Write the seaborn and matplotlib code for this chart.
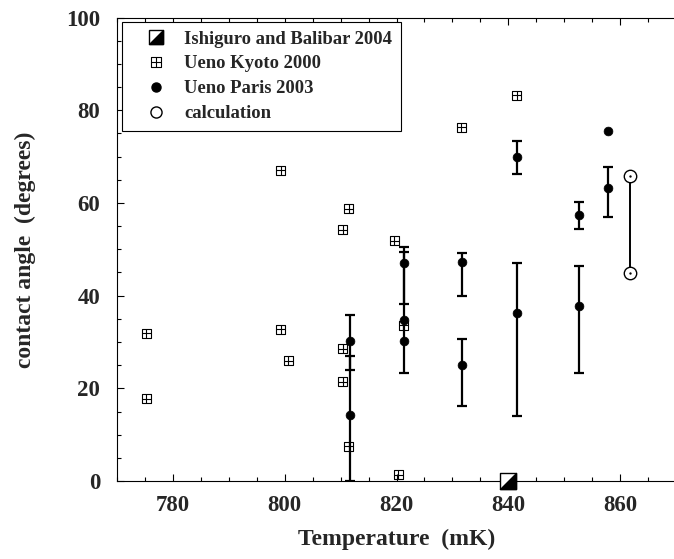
import matplotlib
matplotlib.use("Agg")
import matplotlib.pyplot as plt
import numpy as np
import seaborn as sns
from matplotlib.legend_handler import HandlerTuple
from matplotlib.lines import Line2D
from matplotlib.path import Path
from matplotlib.ticker import MultipleLocator

# Ueno Kyoto 2000
kyoto_T = [775.2, 775.2, 799.3, 799.3, 800.6, 811.5, 810.4, 810.4, 810.4, 811.5,
           819.6, 820.3, 821.2, 831.6, 841.5]
kyoto_angle = [31.9, 17.7, 67.1, 32.8, 25.9, 58.7, 54.2, 28.5, 21.4, 7.5,
               51.8, 1.4, 33.6, 76.3, 83.2]

# Ueno Paris 2003 (points, with lower / upper ends of the error bars)
paris_T = [811.6, 811.6, 821.3, 821.3, 821.3, 831.7, 831.7, 841.5, 841.5,
           852.6, 852.6, 857.9, 857.9]
paris_angle = [30.3, 14.2, 47.0, 34.7, 30.3, 47.3, 25.0, 70.0, 36.2,
               57.5, 37.8, 75.5, 63.3]
paris_lo = [24.0, 0.0, 38.3, 23.4, np.nan, 40.0, 16.2, 66.2, 14.1,
            54.3, 23.4, np.nan, 56.9]
paris_hi = [35.8, 27.0, 50.5, 49.5, np.nan, 49.3, 30.6, 73.4, 47.0,
            60.3, 46.4, np.nan, 67.7]

# calculation
calc_T = [861.7, 861.7]
calc_angle = [65.9, 44.8]

# Ishiguro and Balibar 2004
ishi_T = [840.0]
ishi_angle = [0.0]

sns.set_theme(style="ticks")
plt.rcParams["font.family"] = ["Liberation Serif", "DejaVu Serif"]
plt.rcParams["font.weight"] = "bold"
plt.rcParams["axes.labelweight"] = "bold"

box_plus = Path(
    [(-1, -1), (1, -1), (1, 1), (-1, 1), (-1, -1), (0, -1), (0, 1), (-1, 0), (1, 0)],
    [Path.MOVETO, Path.LINETO, Path.LINETO, Path.LINETO, Path.CLOSEPOLY,
     Path.MOVETO, Path.LINETO, Path.MOVETO, Path.LINETO],
)
half_tri = Path([(-1, -1), (1, -1), (1, 1), (-1, -1)],
                [Path.MOVETO, Path.LINETO, Path.LINETO, Path.CLOSEPOLY])

fig = plt.figure(figsize=(6.74, 5.59), dpi=100)
ax = fig.add_axes([0.1736, 0.1395, 0.8294, 0.829])

# error bars
lo = np.array(paris_lo)
hi = np.array(paris_hi)
yv = np.array(paris_angle)
m = ~np.isnan(lo)
ax.errorbar(np.array(paris_T)[m], yv[m], yerr=[yv[m] - lo[m], hi[m] - yv[m]],
            fmt="none", ecolor="black", elinewidth=1.6, capsize=3.5, capthick=1.6, zorder=2)
ax.plot(calc_T, calc_angle, color="black", lw=1.4, zorder=2)

sns.scatterplot(x=kyoto_T, y=kyoto_angle, marker=box_plus, s=42, facecolor="none",
                edgecolor="black", linewidth=0.8, ax=ax, zorder=3)
sns.scatterplot(x=paris_T, y=paris_angle, marker="o", s=40, color="black",
                edgecolor="black", ax=ax, zorder=4)
sns.scatterplot(x=calc_T, y=calc_angle, marker="o", s=80, facecolor="white",
                edgecolor="black", linewidth=1.0, ax=ax, zorder=4)
ax.scatter(calc_T, calc_angle, marker=".", s=2, color="black", zorder=5)
ax.scatter(ishi_T, ishi_angle, marker="s", s=135, facecolor="white", edgecolor="black",
           linewidth=1.0, zorder=5, clip_on=False)
ax.scatter(ishi_T, ishi_angle, marker=half_tri, s=135, facecolor="black", edgecolor="black",
           linewidth=1.0, zorder=6, clip_on=False)

ax.set_xlim(770, 870)
ax.set_ylim(0, 100)
ax.xaxis.set_major_locator(MultipleLocator(20))
ax.xaxis.set_minor_locator(MultipleLocator(5))
ax.yaxis.set_major_locator(MultipleLocator(20))
ax.yaxis.set_minor_locator(MultipleLocator(5))
ax.tick_params(which="both", direction="in", top=True, right=False, color="black", width=0.8)
ax.tick_params(which="major", length=5)
ax.tick_params(which="minor", length=3)
ax.tick_params(axis="x", which="major", labelsize=16.5, pad=10)
ax.tick_params(axis="y", which="major", labelsize=16.5, pad=12)
for s in ["left", "bottom", "top"]:
    ax.spines[s].set_color("black")
    ax.spines[s].set_linewidth(0.8)
ax.spines["right"].set_visible(False)

ax.set_xlabel("Temperature  (mK)", fontsize=17, labelpad=9)
ax.set_ylabel("contact angle  (degrees)", fontsize=17, labelpad=22)

h_ishi = (Line2D([], [], ls="none", marker="s", ms=10, mfc="white", mec="black", mew=1.0),
          Line2D([], [], ls="none", marker=half_tri, ms=10, mfc="black", mec="black", mew=1.0))
h_kyoto = Line2D([], [], ls="none", marker=box_plus, ms=7, mfc="none", mec="black", mew=0.8)
h_paris = Line2D([], [], ls="none", marker="o", ms=6.5, mfc="black", mec="black")
h_calc = Line2D([], [], ls="none", marker="o", ms=8, mfc="white", mec="black", mew=1.0)
leg = ax.legend([h_ishi, h_kyoto, h_paris, h_calc],
                ["Ishiguro and Balibar 2004", "Ueno Kyoto 2000", "Ueno Paris 2003", "calculation"],
                handler_map={tuple: HandlerTuple(ndivide=1)},
                loc="upper left", bbox_to_anchor=(0.009, 0.99), borderaxespad=0,
                fancybox=False, edgecolor="black", framealpha=1, fontsize=13.4,
                handlelength=2.75, handletextpad=0.15, labelspacing=0.42, borderpad=0.45)
leg.get_frame().set_linewidth(0.8)
for t in leg.get_texts():
    t.set_fontweight("bold")

fig.savefig("out.png", dpi=100)
